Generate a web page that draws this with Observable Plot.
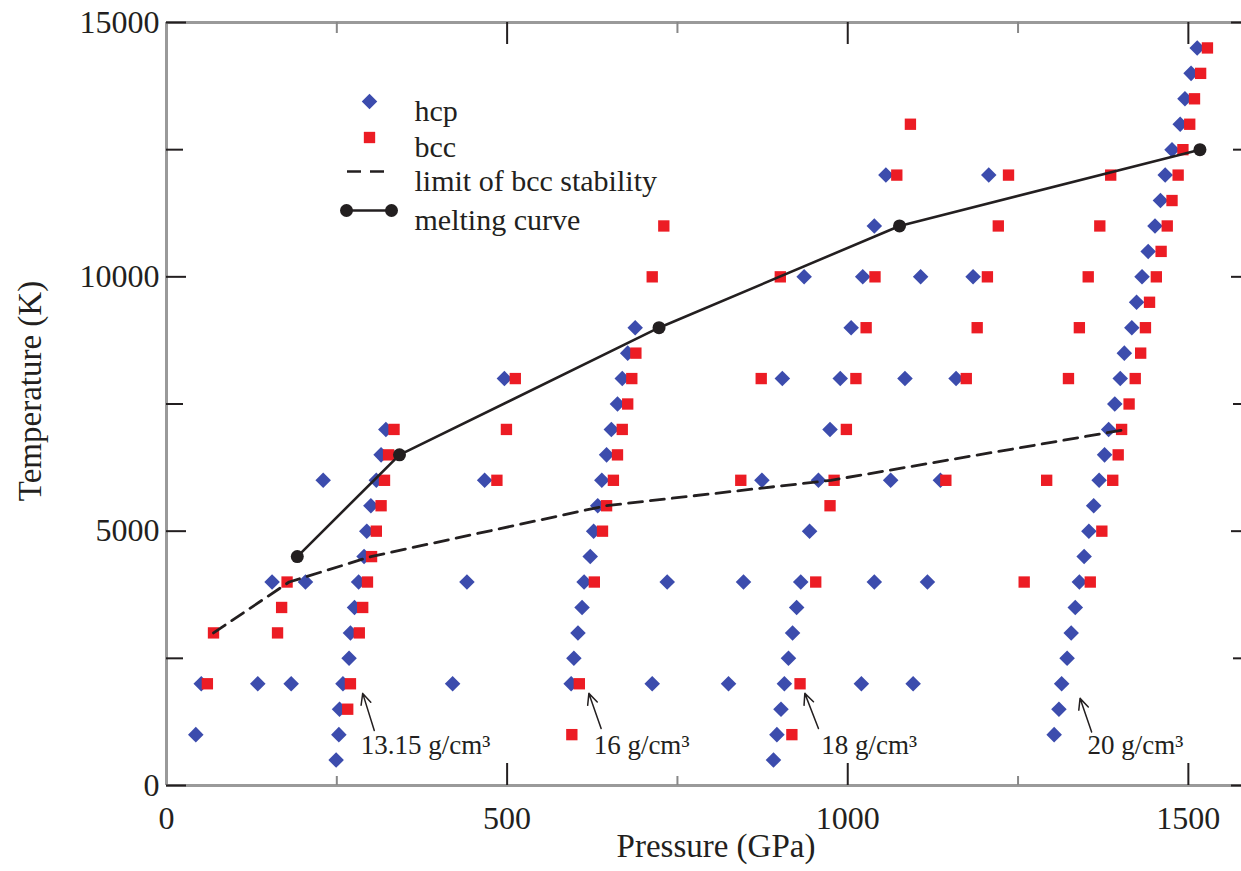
<!DOCTYPE html>
<html>
<head>
<meta charset="utf-8">
<script src="https://cdn.jsdelivr.net/npm/d3@7"></script>
<script src="https://cdn.jsdelivr.net/npm/@observablehq/plot@0.6"></script>
<style>
  html, body { margin: 0; padding: 0; background: #fff; }
  #chart { width: 1241px; height: 871px; }
</style>
</head>
<body>
<div id="chart"></div>
<script>
// ---- Data ----
const xMajor = [0, 500, 1000, 1500];
const xMinor = [250, 750, 1250];
const yMajor = [0, 5000, 10000, 15000];
const yMinor = [2500, 7500, 12500];

// hcp points: [pressure (GPa), temperature (K)]
const hcp = [
  [249, 500], [891, 500],
  [43, 1000], [253, 1000], [896, 1000], [1303, 1000],
  [254, 1500], [902, 1500], [1310, 1500],
  [51, 2000], [134, 2000], [183, 2000], [259, 2000], [420, 2000], [594, 2000], [713, 2000], [825, 2000], [907, 2000], [1020, 2000], [1096, 2000], [1314, 2000],
  [268, 2500], [598, 2500], [913, 2500], [1322, 2500],
  [270, 3000], [604, 3000], [919, 3000], [1328, 3000],
  [276, 3500], [610, 3500], [925, 3500], [1334, 3500],
  [155, 4000], [204, 4000], [282, 4000], [441, 4000], [613, 4000], [735, 4000], [847, 4000], [931, 4000], [1039, 4000], [1117, 4000], [1340, 4000],
  [290, 4500], [622, 4500], [1347, 4500],
  [294, 5000], [627, 5000], [944, 5000], [1354, 5000],
  [300, 5500], [633, 5500], [1361, 5500],
  [230, 6000], [308, 6000], [467, 6000], [639, 6000], [874, 6000], [957, 6000], [1063, 6000], [1136, 6000], [1369, 6000],
  [315, 6500], [646, 6500], [1377, 6500],
  [322, 7000], [653, 7000], [974, 7000], [1383, 7000],
  [662, 7500], [1392, 7500],
  [496, 8000], [669, 8000], [904, 8000], [989, 8000], [1084, 8000], [1159, 8000], [1400, 8000],
  [677, 8500], [1406, 8500],
  [688, 9000], [1005, 9000], [1417, 9000],
  [1424, 9500],
  [936, 10000], [1022, 10000], [1107, 10000], [1184, 10000], [1432, 10000],
  [1441, 10500],
  [1039, 11000], [1451, 11000],
  [1459, 11500],
  [1056, 12000], [1207, 12000], [1466, 12000],
  [1476, 12500],
  [1488, 13000],
  [1495, 13500],
  [1504, 14000],
  [1513, 14500]
];

// bcc points: [pressure (GPa), temperature (K)]
const bcc = [
  [595, 1000], [918, 1000],
  [266, 1500],
  [60, 2000], [270, 2000], [606, 2000], [930, 2000],
  [69, 3000], [163, 3000], [283, 3000],
  [169, 3500], [288, 3500],
  [177, 4000], [295, 4000], [628, 4000], [953, 4000], [1259, 4000], [1356, 4000],
  [301, 4500],
  [308, 5000], [640, 5000], [1373, 5000],
  [315, 5500], [646, 5500], [974, 5500],
  [320, 6000], [485, 6000], [656, 6000], [843, 6000], [980, 6000], [1144, 6000], [1292, 6000], [1389, 6000],
  [326, 6500], [662, 6500], [1397, 6500],
  [334, 7000], [499, 7000], [669, 7000], [998, 7000], [1402, 7000],
  [677, 7500], [1413, 7500],
  [512, 8000], [683, 8000], [873, 8000], [1012, 8000], [1174, 8000], [1324, 8000], [1422, 8000],
  [689, 8500], [1430, 8500],
  [1027, 9000], [1190, 9000], [1340, 9000], [1437, 9000],
  [1443, 9500],
  [713, 10000], [901, 10000], [1040, 10000], [1205, 10000], [1353, 10000], [1453, 10000],
  [1460, 10500],
  [730, 11000], [1221, 11000], [1370, 11000], [1469, 11000],
  [1476, 11500],
  [1072, 12000], [1236, 12000], [1386, 12000], [1485, 12000],
  [1492, 12500],
  [1092, 13000], [1502, 13000],
  [1509, 13500],
  [1518, 14000],
  [1528, 14500]
];

const melting = [[192, 4500], [342, 6500], [723, 9000], [1076, 11000], [1517, 12500]];
const bccLimit = [[69, 3000], [180, 4000], [300, 4500], [645, 5500], [975, 6000], [1409, 7000]];

// density annotations
const densityLabels = ["13.15 g/cm³", "16 g/cm³", "18 g/cm³", "20 g/cm³"];
const labelP = [285, 627, 961, 1352];
const labelT = [790, 790, 790, 790];
const arrowFromP = [305, 638, 957, 1358];
const arrowFromT = [1083, 1122, 1122, 1050];
const arrowToP = [288, 620, 937, 1341];
const arrowToT = [1811, 1811, 1811, 1713];

const legendLabels = ["hcp", "bcc", "limit of bcc stability", "melting curve"];

// ---- Build ----
const W = 1241, H = 871;
const mL = 166, mR = 0, mT = 22, mB = 86;
const pw = W - mL - mR, ph = H - mT - mB;
const ink = "#231f20";
const hcpColor = "#3c4cad";
const bccColor = "#ec1c24";
const font = "Liberation Serif";
const rDiamond = 7.0, rSquare = 6.4;

const annotations = densityLabels.map((t, i) => ({text: t, p: labelP[i], t: labelT[i]}));
const arrows = densityLabels.map((t, i) => ({p1: arrowFromP[i], t1: arrowFromT[i], p2: arrowToP[i], t2: arrowToT[i]}));

const legendRowsDy = [79, 115, 149, 188];
const yTop = yMajor[yMajor.length - 1];

const chart = Plot.plot({
  width: W, height: H,
  marginLeft: mL, marginRight: mR, marginTop: mT, marginBottom: mB,
  style: {fontFamily: font, fontSize: "32px", color: ink, background: "#fff", overflow: "visible"},
  x: {domain: [0, 1578], label: null},
  y: {domain: [0, 15000], label: null},
  marks: [
    // frame lines (left, bottom, top)
    Plot.ruleX([0], {stroke: "#9a9a9a", strokeWidth: 3}),
    Plot.ruleY([0], {stroke: "#9a9a9a", strokeWidth: 3}),
    Plot.ruleY([yTop], {stroke: "#9a9a9a", strokeWidth: 3}),
    // inward ticks, bottom & top
    Plot.ruleX(xMajor.filter(d => d > 0), {x: d => d, insetTop: ph - 22, stroke: ink, strokeWidth: 2}),
    Plot.ruleX(xMinor, {x: d => d, insetTop: ph - 9, stroke: "#888", strokeWidth: 2}),
    Plot.ruleX(xMajor.filter(d => d > 0), {x: d => d, insetBottom: ph - 22, stroke: ink, strokeWidth: 2}),
    Plot.ruleX(xMinor, {x: d => d, insetBottom: ph - 11, stroke: "#888", strokeWidth: 2}),
    // inward ticks, left & right
    Plot.ruleY(yMajor, {y: d => d, insetRight: pw - 20, stroke: ink, strokeWidth: 2}),
    Plot.ruleY(yMinor, {y: d => d, insetRight: pw - 17, stroke: ink, strokeWidth: 2}),
    Plot.ruleY(yMajor, {y: d => d, insetLeft: pw - 10, stroke: ink, strokeWidth: 2}),
    Plot.ruleY(yMinor, {y: d => d, insetLeft: pw - 8, stroke: ink, strokeWidth: 2}),
    // tick labels
    Plot.axisX({ticks: xMajor, tickSize: 0, tickPadding: 21, tickFormat: d => String(d), label: null, fontSize: 32, fill: ink}),
    Plot.axisY({ticks: yMajor, tickSize: 0, tickPadding: 7, tickFormat: d => String(d), label: null, fontSize: 32, fill: ink}),
    // axis titles
    Plot.text(["Pressure (GPa)"], {frameAnchor: "bottom", dx: 12, dy: 71, fontSize: 33, fill: ink}),
    Plot.text(["Temperature (K)"], {frameAnchor: "left", textAnchor: "middle", dx: -136, dy: -13, rotate: -90, fontSize: 33, fill: ink}),
    // data
    Plot.dot(hcp, {x: d => d[0], y: d => d[1], symbol: "diamond2", r: rDiamond, fill: hcpColor, stroke: "none"}),
    Plot.dot(bcc, {x: d => d[0], y: d => d[1], symbol: "square", r: rSquare, fill: bccColor, stroke: "none"}),
    Plot.line(bccLimit, {x: d => d[0], y: d => d[1], stroke: ink, strokeWidth: 2.8, strokeDasharray: "14,8"}),
    Plot.line(melting, {x: d => d[0], y: d => d[1], stroke: ink, strokeWidth: 2.6}),
    Plot.dot(melting, {x: d => d[0], y: d => d[1], r: 6.5, fill: ink, stroke: "none"}),
    // density annotations
    Plot.arrow(arrows, {x1: "p1", y1: "t1", x2: "p2", y2: "t2", stroke: ink, strokeWidth: 1.5, headLength: 12, headAngle: 50}),
    Plot.text(annotations, {x: "p", y: "t", text: "text", textAnchor: "start", fontSize: 27, fill: ink}),
    // legend
    Plot.dot([0], {frameAnchor: "top-left", dx: 203, dy: legendRowsDy[0], symbol: "diamond2", r: rDiamond, fill: hcpColor, stroke: "none"}),
    Plot.dot([0], {frameAnchor: "top-left", dx: 203, dy: legendRowsDy[1], symbol: "square", r: rSquare, fill: bccColor, stroke: "none"}),
    Plot.ruleY([yTop], {dy: legendRowsDy[2], insetLeft: 181, insetRight: pw - 224, stroke: ink, strokeWidth: 2.6, strokeDasharray: "14,9"}),
    Plot.ruleY([yTop], {dy: legendRowsDy[3], insetLeft: 180, insetRight: pw - 225, stroke: ink, strokeWidth: 2.6}),
    Plot.dot([0], {frameAnchor: "top-left", dx: 180, dy: legendRowsDy[3], r: 6.5, fill: ink, stroke: "none"}),
    Plot.dot([0], {frameAnchor: "top-left", dx: 225, dy: legendRowsDy[3], r: 6.5, fill: ink, stroke: "none"}),
    ...legendLabels.map((lab, i) =>
      Plot.text([lab], {frameAnchor: "top-left", dx: 248, dy: legendRowsDy[i] - 2, textAnchor: "start", fontSize: 30, fill: ink})
    )
  ]
});
document.getElementById("chart").appendChild(chart);
</script>
</body>
</html>
